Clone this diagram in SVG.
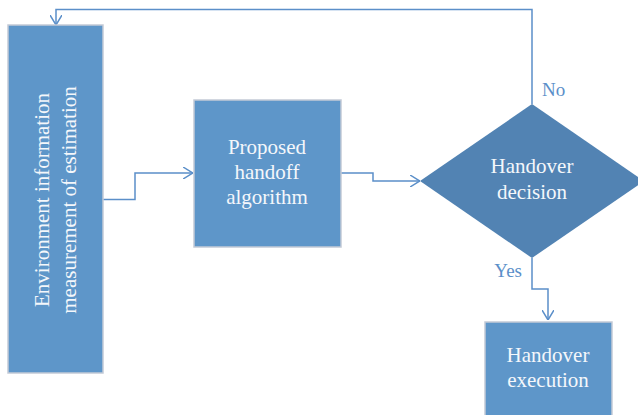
<svg xmlns="http://www.w3.org/2000/svg" width="638" height="415" viewBox="0 0 638 415">
<style>
.box{fill:#5e96c9;stroke:#c3cad6;stroke-width:1.5}
.dia{fill:#5283b3}
.t{font-family:"Liberation Serif",serif;font-size:21px;fill:#f4f7fb;text-anchor:middle}
.lbl{font-family:"Liberation Serif",serif;font-size:19px;fill:#5b8fc9}
.c{fill:none;stroke:#5b8fc9;stroke-width:1.5}
</style>
<defs>
<marker id="ah" viewBox="0 0 10 12" refX="10" refY="6" markerWidth="10" markerHeight="12" markerUnits="userSpaceOnUse" orient="auto">
<path d="M0,0 L10,6 L0,12" fill="none" stroke="#5b8fc9" stroke-width="1.5"/>
</marker>
</defs>
<rect width="638" height="415" fill="#ffffff"/>
<g id="connectors">
<path class="c" d="M103,199.5 H135 V173 H193" marker-end="url(#ah)"/>
<path class="c" d="M341,173 H373 V181 H420" marker-end="url(#ah)"/>
<path class="c" d="M532,104 V9.5 H56 V25" marker-end="url(#ah)"/>
<path class="c" d="M532,258 V289 H548 V320" marker-end="url(#ah)"/>
<text class="lbl" x="542" y="96">No</text>
<text class="lbl" x="522" y="277" text-anchor="end">Yes</text>
</g>
<g id="env">
<rect class="box" x="8" y="25" width="95" height="348"/>
<text class="t" transform="translate(49,200) rotate(-90)">Environment information</text>
<text class="t" transform="translate(76,200) rotate(-90)">measurement of estimation</text>
</g>
<g id="proposed">
<rect class="box" x="194" y="100" width="147" height="147"/>
<text class="t" x="267" y="154">Proposed</text>
<text class="t" x="267" y="179">handoff</text>
<text class="t" x="267" y="204">algorithm</text>
</g>
<g id="decision">
<polygon class="dia" points="420,181 532,104 644,181 532,258"/>
<text class="t" x="532" y="173">Handover</text>
<text class="t" x="532" y="199">decision</text>
</g>
<g id="execution">
<rect class="box" x="485" y="322" width="127" height="100"/>
<text class="t" x="548" y="362">Handover</text>
<text class="t" x="548" y="387">execution</text>
</g>
</svg>
